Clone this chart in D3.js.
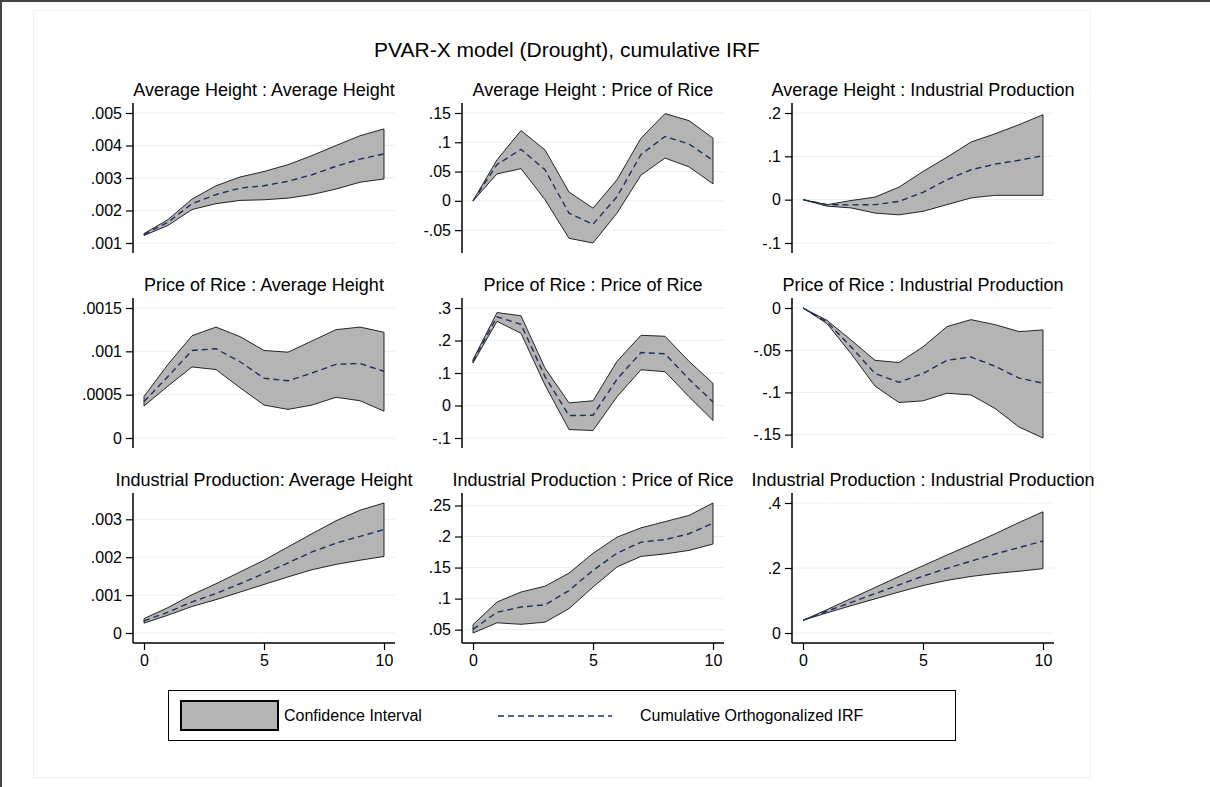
<!DOCTYPE html>
<html>
<head>
<meta charset="utf-8">
<script src="https://cdn.jsdelivr.net/npm/d3@7"></script>
<style>
  body { margin: 0; background: #fff; }
  svg { display: block; font-family: "Liberation Sans", Arial, sans-serif; }
</style>
</head>
<body>
<div id="chart"></div>
<script>
const steps = [0, 1, 2, 3, 4, 5, 6, 7, 8, 9, 10];

// Average Height : Average Height
const ahAhLow = [.00123, .00154, .00203, .00221, .00231, .00233, .00238, .00249, .00266, .00287, .00297];
const ahAhUp  = [.00129, .00172, .00235, .00276, .00303, .0032, .00341, .00369, .004, .0043, .00451];
const ahAhIrf = [.00126, .00164, .00221, .00249, .00269, .00276, .0029, .0031, .00336, .00358, .00374];

// Average Height : Price of Rice
const ahPrLow = [0, .046, .055, .002, -.064, -.072, -.021, .044, .073, .058, .029];
const ahPrUp  = [0, .070, .120, .087, .015, -.0125, .036, .107, .149, .137, .107];
const ahPrIrf = [0, .062, .088, .053, -.021, -.040, .007, .079, .110, .097, .069];

// Average Height : Industrial Production
const ahIpLow = [0, -.015, -.019, -.031, -.035, -.027, -.0115, .004, .010, .010, .010];
const ahIpUp  = [0, -.0115, -.002, .006, .029, .065, .098, .133, .152, .173, .196];
const ahIpIrf = [0, -.0115, -.012, -.0115, -.004, .017, .046, .069, .082, .091, .1015];

// Price of Rice : Average Height
const prAhLow = [.00037, .0006, .00082, .00079, .00058, .00038, .00033, .00038, .00047, .00043, .00031];
const prAhUp  = [.00048, .00085, .00118, .00128, .00117, .00101, .00099, .00112, .00125, .00128, .00122];
const prAhIrf = [.00042, .00071, .00101, .00103, .00088, .00069, .00066, .00075, .00085, .00086, .00077];

// Price of Rice : Price of Rice
const prPrLow = [.131, .259, .222, .063, -.074, -.077, .027, .110, .104, .027, -.046];
const prPrUp  = [.141, .286, .276, .115, .008, .0145, .136, .216, .213, .136, .068];
const prPrIrf = [.136, .273, .250, .089, -.031, -.030, .081, .163, .159, .081, .011];

// Price of Rice : Industrial Production
const prIpLow = [0, -.0185, -.054, -.0925, -.112, -.110, -.101, -.103, -.119, -.141, -.154];
const prIpUp  = [0, -.0146, -.038, -.062, -.0646, -.046, -.022, -.0138, -.0197, -.028, -.026];
const prIpIrf = [0, -.0165, -.046, -.0776, -.088, -.0776, -.062, -.058, -.069, -.083, -.089];

// Industrial Production : Average Height
const ipAhLow = [.00026, .00047, .0007, .00088, .00108, .00128, .00148, .00167, .00181, .00192, .00202];
const ipAhUp  = [.00038, .00067, .00101, .0013, .00161, .00192, .00227, .00262, .00296, .00324, .00343];
const ipAhIrf = [.00032, .00055, .00082, .00104, .0013, .00157, .00185, .00214, .00237, .00255, .00273];

// Industrial Production : Price of Rice
const ipPrLow = [.0446, .061, .0586, .062, .0838, .1186, .151, .168, .172, .1776, .188];
const ipPrUp  = [.058, .0945, .1106, .120, .141, .173, .199, .214, .224, .234, .254];
const ipPrIrf = [.0505, .078, .0865, .090, .113, .1455, .173, .191, .195, .2045, .2216];

// Industrial Production : Industrial Production
const ipIpLow = [.039, .062, .084, .105, .126, .146, .162, .174, .183, .190, .198];
const ipIpUp  = [.039, .072, .106, .140, .174, .207, .240, .272, .305, .340, .373];
const ipIpIrf = [.039, .067, .094, .121, .148, .175, .199, .221, .243, .263, .283];

const panelTitles = [
  "Average Height : Average Height", "Average Height : Price of Rice", "Average Height : Industrial Production",
  "Price of Rice : Average Height", "Price of Rice : Price of Rice", "Price of Rice : Industrial Production",
  "Industrial Production: Average Height", "Industrial Production : Price of Rice", "Industrial Production : Industrial Production"
];
const yTicks = [
  [.001, .002, .003, .004, .005], [-.05, 0, .05, .1, .15], [-.1, 0, .1, .2],
  [0, .0005, .001, .0015], [-.1, 0, .1, .2, .3], [-.15, -.1, -.05, 0],
  [0, .001, .002, .003], [.05, .1, .15, .2, .25], [0, .2, .4]
];
const xTicks = [0, 5, 10];
const chartTitle = "PVAR-X model (Drought), cumulative IRF";
const legendLabels = ["Confidence Interval", "Cumulative Orthogonalized IRF"];

const lows = [ahAhLow, ahPrLow, ahIpLow, prAhLow, prPrLow, prIpLow, ipAhLow, ipPrLow, ipIpLow];
const ups  = [ahAhUp, ahPrUp, ahIpUp, prAhUp, prPrUp, prIpUp, ipAhUp, ipPrUp, ipIpUp];
const irfs = [ahAhIrf, ahPrIrf, ahIpIrf, prAhIrf, prPrIrf, prIpIrf, ipAhIrf, ipPrIrf, ipIpIrf];

const width = 1210, height = 787;
const colX = [133, 462, 792];
const rowY = [103, 298, 493];
const plotW = 262, plotH = 150;
const bandFill = "#b4b4b4";
const irfColor = "#1f2f5c";
const gridColor = "#e8f0f1";

const svg = d3.select("#chart").append("svg")
  .attr("width", width)
  .attr("height", height);

// frame
svg.append("rect").attr("x", 33.5).attr("y", 10.5).attr("width", 1057).attr("height", 767)
  .attr("fill", "none").attr("stroke", "#eef2f3");
svg.append("line").attr("x1", 0).attr("x2", width).attr("y1", 1).attr("y2", 1)
  .attr("stroke", "#444").attr("stroke-width", 2);
svg.append("line").attr("x1", 1).attr("x2", 1).attr("y1", 0).attr("y2", height)
  .attr("stroke", "#444").attr("stroke-width", 2);

svg.append("text")
  .attr("x", 567).attr("y", 57)
  .attr("text-anchor", "middle")
  .attr("font-size", "21px")
  .text(chartTitle);

const fmt = v => String(v).replace("0.", ".");

panelTitles.forEach((title, i) => {
  const row = Math.floor(i / 3), col = i % 3;
  const x0 = colX[col], y0 = rowY[row];
  const lo = lows[i], up = ups[i], irf = irfs[i];
  const ticks = yTicks[i];

  const yMin = Math.min(d3.min(lo), d3.min(irf), d3.min(ticks));
  const yMax = Math.max(d3.max(up), d3.max(irf), d3.max(ticks));

  const x = d3.scaleLinear().domain([0, 10]).range([x0 + 11, x0 + 251]);
  const y = d3.scaleLinear().domain([yMin, yMax]).range([y0 + plotH - 10, y0 + 10]);

  const g = svg.append("g");

  g.append("text")
    .attr("x", x0 + plotW / 2)
    .attr("y", y0 - 7)
    .attr("text-anchor", "middle")
    .attr("font-size", "18px")
    .text(title);

  // grid lines
  g.append("g").selectAll("line")
    .data(ticks)
    .join("line")
    .attr("x1", x0).attr("x2", x0 + plotW)
    .attr("y1", d => y(d)).attr("y2", d => y(d))
    .attr("stroke", gridColor).attr("stroke-width", 1);

  // confidence band
  const area = d3.area()
    .x((d, k) => x(steps[k]))
    .y0((d, k) => y(lo[k]))
    .y1((d, k) => y(up[k]));
  g.append("path")
    .datum(steps)
    .attr("d", area)
    .attr("fill", bandFill)
    .attr("stroke", "#111")
    .attr("stroke-width", 0.9)
    .attr("stroke-linejoin", "round");

  const line = d3.line()
    .x((d, k) => x(steps[k]))
    .y(d => y(d));
  g.append("path")
    .datum(irf)
    .attr("d", line)
    .attr("fill", "none")
    .attr("stroke", irfColor)
    .attr("stroke-width", 1.4)
    .attr("stroke-dasharray", "6,4");

  // y axis
  const yAxis = d3.axisLeft(y).tickValues(ticks).tickSize(7).tickPadding(4).tickFormat(fmt);
  const ya = g.append("g")
    .attr("transform", `translate(${x0},0)`)
    .call(yAxis);
  ya.select(".domain").attr("d", `M0,${y0}V${y0 + plotH}`).attr("stroke", "#000").attr("stroke-width", 1.5);
  ya.selectAll(".tick line").attr("stroke", "#000").attr("stroke-width", 1.2);
  ya.selectAll(".tick text").attr("font-size", "16px").attr("fill", "#000")
    .attr("font-family", "'Liberation Sans', Arial, sans-serif");

  if (row === 2) {
    const xAxis = d3.axisBottom(x).tickValues(xTicks).tickSize(7).tickPadding(5).tickFormat(d3.format("d"));
    const xa = g.append("g")
      .attr("transform", `translate(0,${y0 + plotH})`)
      .call(xAxis);
    xa.select(".domain").attr("d", `M${x0},0H${x0 + plotW}`).attr("stroke", "#000").attr("stroke-width", 1.5);
    xa.selectAll(".tick line").attr("stroke", "#000").attr("stroke-width", 1.2);
    xa.selectAll(".tick text").attr("font-size", "16px").attr("fill", "#000")
      .attr("font-family", "'Liberation Sans', Arial, sans-serif");
  }
});

// legend
const lg = svg.append("g");
lg.append("rect").attr("x", 168.5).attr("y", 690.5).attr("width", 787).attr("height", 50)
  .attr("fill", "#fff").attr("stroke", "#000").attr("stroke-width", 1);
lg.append("rect").attr("x", 181).attr("y", 701).attr("width", 97).attr("height", 29)
  .attr("fill", bandFill).attr("stroke", "#000").attr("stroke-width", 2);
lg.append("text").attr("x", 284).attr("y", 721).attr("font-size", "16px").text(legendLabels[0]);
lg.append("line").attr("x1", 498).attr("x2", 612).attr("y1", 716).attr("y2", 716)
  .attr("stroke", irfColor).attr("stroke-width", 1.4).attr("stroke-dasharray", "6,4");
lg.append("text").attr("x", 640).attr("y", 721).attr("font-size", "16px").text(legendLabels[1]);
</script>
</body>
</html>
